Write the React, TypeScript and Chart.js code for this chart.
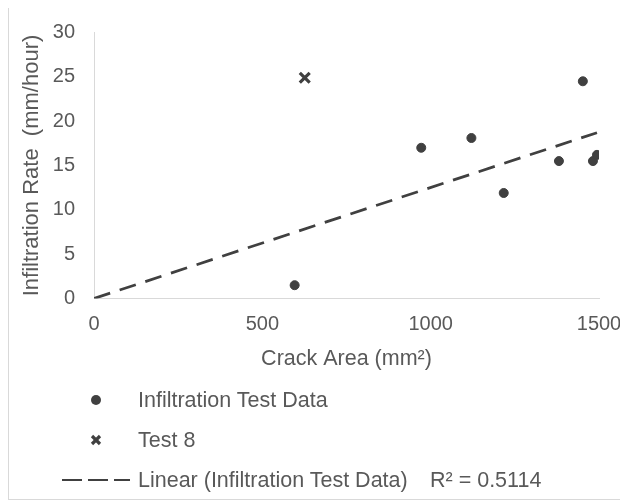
import React, { useEffect, useRef } from "react";
import { Chart, registerables } from "chart.js";

Chart.register(...registerables);

// ---- data ----
const testX = [596, 972, 1121, 1217, 1381, 1452, 1482, 1494];
const testY = [1.5, 17.0, 18.1, 11.9, 15.5, 24.5, 15.5, 16.2];
const test8X = [626];
const test8Y = [24.9];
const trendX = [0, 1494];
const trendY = [0, 18.7];
const rSquaredText = "R² = 0.5114";
const xTicks = [0, 500, 1000, 1500];
const yTicks = [0, 5, 10, 15, 20, 25, 30];
const xTitle = "Crack Area (mm²)";
const yTitle = "Infiltration Rate  (mm/hour)";
const legendLabels = ["Infiltration Test Data", "Test 8", "Linear (Infiltration Test Data)"];

const TEXT = "#595959";
const MARK = "#404040";
const AXIS = "#d9d9d9";
const FONT = "'Liberation Sans', Arial, sans-serif";

const CW = 616;
const CH = 372;

export default function App() {
  const ref = useRef<HTMLCanvasElement | null>(null);

  useEffect(() => {
    if (!ref.current) return;
    const chart = new Chart(ref.current, {
      type: "scatter",
      data: {
        datasets: [
          {
            label: legendLabels[0],
            data: testX.map((x, i) => ({ x, y: testY[i] })),
            pointStyle: "circle",
            pointRadius: 4.5,
            borderWidth: 1,
            backgroundColor: MARK,
            borderColor: MARK,
            order: 1,
          },
          {
            label: legendLabels[1],
            data: test8X.map((x, i) => ({ x, y: test8Y[i] })),
            pointStyle: "crossRot",
            pointRadius: 7,
            borderWidth: 3.2,
            backgroundColor: MARK,
            borderColor: MARK,
            order: 1,
          },
          {
            type: "line",
            label: legendLabels[2],
            data: trendX.map((x, i) => ({ x, y: trendY[i] })),
            showLine: true,
            pointRadius: 0,
            borderColor: MARK,
            borderWidth: 2.75,
            borderDash: [17, 10],
            fill: false,
            order: 2,
          } as any,
        ],
      },
      options: {
        responsive: false,
        animation: false,
        devicePixelRatio: 1,
        layout: { padding: { left: 0, right: 26, top: 24.5, bottom: 0 } },
        plugins: {
          legend: { display: false },
          tooltip: { enabled: false },
          title: { display: false },
        },
        scales: {
          x: {
            type: "linear",
            min: xTicks[0],
            max: xTicks[xTicks.length - 1],
            afterBuildTicks: (s: any) => {
              s.ticks = xTicks.map((v) => ({ value: v }));
            },
            afterFit: (s: any) => {
              s.height = CH - 290.5;
            },
            grid: { display: false, drawTicks: true, tickLength: 14 },
            border: { display: true, color: AXIS, width: 1 },
            ticks: {
              color: TEXT,
              font: { family: FONT, size: 20 },
              padding: 0,
              maxRotation: 0,
              callback: (v: any) => String(v),
            },
            title: {
              display: true,
              text: xTitle,
              color: TEXT,
              font: { family: FONT, size: 21.5 },
              padding: { top: 0, bottom: 8 },
            },
          },
          y: {
            type: "linear",
            min: yTicks[0],
            max: yTicks[yTicks.length - 1],
            afterBuildTicks: (s: any) => {
              s.ticks = yTicks.map((v) => ({ value: v }));
            },
            afterFit: (s: any) => {
              s.width = 85;
            },
            grid: { display: false, drawTicks: true, tickLength: 19 },
            border: { display: true, color: AXIS, width: 1 },
            ticks: {
              color: TEXT,
              font: { family: FONT, size: 20 },
              padding: 0,
              callback: (v: any) => String(v),
            },
            title: {
              display: true,
              text: yTitle,
              color: TEXT,
              font: { family: FONT, size: 22 },
              padding: { top: 10, bottom: 0 },
            },
          },
        },
      },
    });
    return () => chart.destroy();
  }, []);

  const textStyle: React.CSSProperties = {
    position: "absolute",
    fontFamily: FONT,
    fontSize: 21.5,
    lineHeight: "24px",
    color: TEXT,
    whiteSpace: "pre",
  };

  return (
    <div
      style={{
        position: "relative",
        width: CW,
        height: 491,
        border: `1px solid ${AXIS}`,
        marginTop: -1,
        background: "#fff",
      }}
    >
      <canvas ref={ref} width={CW} height={CH} style={{ display: "block", width: CW, height: CH }} />
      <svg
        width={CW}
        height={491}
        style={{ position: "absolute", left: 0, top: 0, pointerEvents: "none" }}
      >
        <circle cx={87} cy={392} r={5} fill={MARK} />
        <g stroke={MARK} strokeWidth={3.2}>
          <line x1={83} y1={428} x2={91} y2={436} />
          <line x1={91} y1={428} x2={83} y2={436} />
        </g>
        <line x1={53} y1={472} x2={121} y2={472} stroke={MARK} strokeWidth={2} strokeDasharray="20 6" />
      </svg>
      <div style={{ ...textStyle, left: 129, top: 380 }}>{legendLabels[0]}</div>
      <div style={{ ...textStyle, left: 129, top: 420 }}>{legendLabels[1]}</div>
      <div style={{ ...textStyle, left: 129, top: 460 }}>{legendLabels[2]}</div>
      <div style={{ ...textStyle, left: 421, top: 460 }}>{rSquaredText}</div>
    </div>
  );
}
